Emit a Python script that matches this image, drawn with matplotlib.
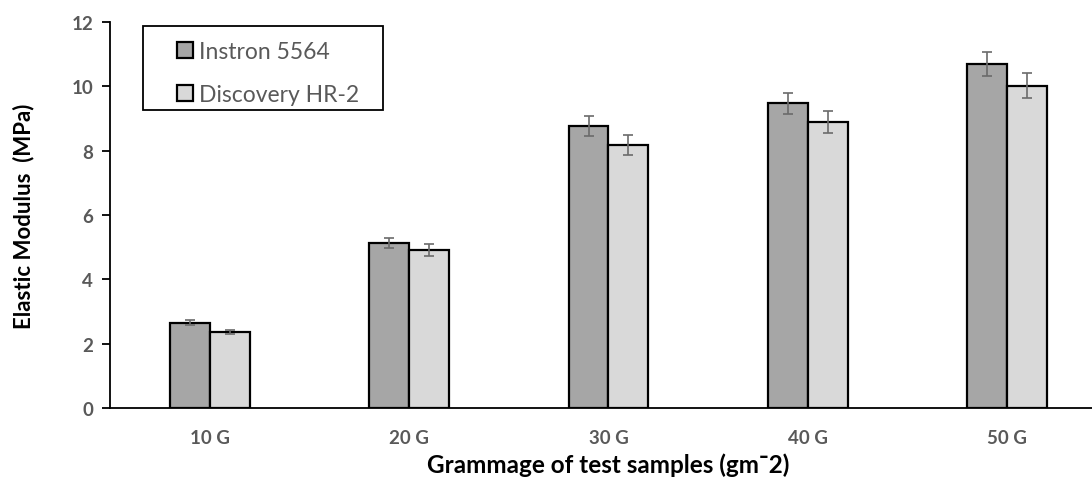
import matplotlib
matplotlib.use('Agg')
import matplotlib.pyplot as plt
from matplotlib.patches import Rectangle
import numpy as np

# Data
categories = ['10 G', '20 G', '30 G', '40 G', '50 G']
instron = [2.65, 5.12, 8.77, 9.47, 10.70]
instron_err = [0.08, 0.16, 0.31, 0.32, 0.38]
discovery = [2.37, 4.90, 8.18, 8.90, 10.02]
discovery_err = [0.06, 0.19, 0.32, 0.34, 0.39]

plt.rcParams['font.family'] = ['Lato', 'DejaVu Sans']

w = 0.2
x = np.arange(len(categories))

fig = plt.figure(figsize=(10.92, 4.81), dpi=100)
# axis runs on past the right edge of the picture
ax = fig.add_axes([0.1007, 0.1497, 0.913, 0.8025])

err_kw = dict(ecolor='#6b6b6b', elinewidth=1.2, capsize=3.5, capthick=1.2)
b1 = ax.bar(x - w / 2, instron, width=w, color='#a6a6a6', edgecolor='black',
            linewidth=1.6, yerr=instron_err, error_kw=err_kw, label='Instron 5564')
b2 = ax.bar(x + w / 2, discovery, width=w, color='#d9d9d9', edgecolor='black',
            linewidth=1.6, yerr=discovery_err, error_kw=err_kw, label='Discovery HR-2')

ax.set_xlim(-0.5, 4.5)
ax.set_ylim(0, 12)
ax.set_yticks(np.arange(0, 13, 2))
ax.set_xticks(x)
ax.set_xticklabels(categories)

for s in ['top', 'right']:
    ax.spines[s].set_visible(False)
ax.spines['left'].set_linewidth(1.3)
ax.spines['bottom'].set_linewidth(1.3)
ax.tick_params(axis='y', length=6, width=1.3, colors='black', labelcolor='#595959',
               labelsize=13.5, pad=6)
ax.tick_params(axis='x', length=0, labelcolor='#595959', labelsize=13.5, pad=15)
for lbl in ax.get_xticklabels() + ax.get_yticklabels():
    lbl.set_fontweight('bold')

ax.set_ylabel('Elastic Modulus  (MPa)', fontsize=16, fontweight='bold', labelpad=27)
ax.set_xlabel('Grammage of test samples (gm\u00af2)', fontsize=17.5, fontweight='bold',
              labelpad=5)

# legend with a wider box drawn separately
leg = ax.legend(handles=[b1, b2], loc='upper left', bbox_to_anchor=(0.1621, 0.913),
                bbox_transform=fig.transFigure, fontsize=16.5, frameon=False,
                handlelength=0.7, handleheight=0.7, handletextpad=0.25, borderpad=0,
                labelspacing=0.95, borderaxespad=0)
for t in leg.get_texts():
    t.set_color('#595959')
fig.patches.append(Rectangle((0.131, 0.769), 0.2198, 0.1746, transform=fig.transFigure,
                             fill=False, edgecolor='black', linewidth=1.3))

fig.savefig('out.png', dpi=100)
